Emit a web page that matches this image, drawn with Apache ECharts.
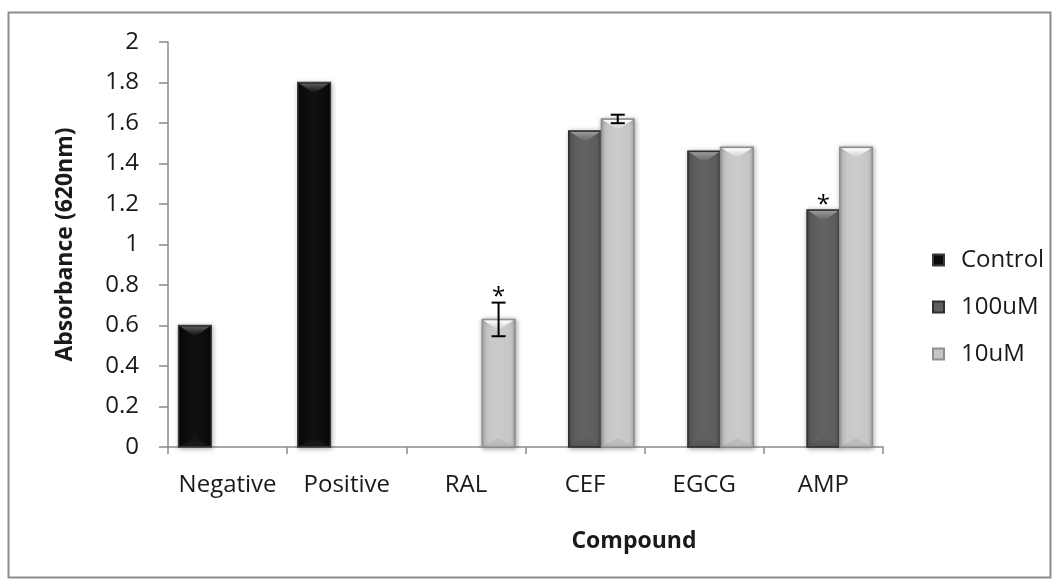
<!DOCTYPE html>
<html>
<head>
<meta charset="utf-8">
<style>
  html, body { margin: 0; padding: 0; background: #ffffff; }
  #chart { width: 1059px; height: 580px; }
</style>
<script src="https://cdn.jsdelivr.net/npm/echarts@6/dist/echarts.min.js"></script>
</head>
<body>
<div id="chart"></div>
<script>
// Absorbance at 620 nm per compound, for the controls and two concentrations.
const categories = ['Negative', 'Positive', 'RAL', 'CEF', 'EGCG', 'AMP'];
const controlValues = [0.60, 1.80, null, null, null, null];
const uM100Values = [null, null, null, 1.56, 1.46, 1.17];
const uM10Values = [null, null, 0.63, 1.62, 1.48, 1.48];
// Half-widths of the error bars (same order as categories).
const uM100Errors = [null, null, null, null, null, null];
const uM10Errors = [null, null, 0.083, 0.021, null, null];
// Significance marks (*).
const uM100Stars = [false, false, false, false, false, true];
const uM10Stars = [false, false, true, false, false, false];
// Value axis ticks.
const yMin = 0, yMax = 2, yStep = 0.2;

const FONT = '"Open Sans", "Noto Sans", sans-serif';
const BAR_RATIO = 0.274;   // bar width as a share of the category band

const palettes = {
  Control: { base: '#0b0b0b', edgeDark: '#000000', mid: '#111111', stroke: '#3c3c3c', bevelTop: '#5a5a5a', bevelBottom: '#1e1e1e' },
  '100uM': { base: '#5d5d5d', edgeDark: '#4a4a4a', mid: '#626262', stroke: '#2e2e2e', bevelTop: '#9a9a9a', bevelBottom: '#555555' },
  '10uM':  { base: '#c6c6c6', edgeDark: '#a9a9a9', mid: '#cbcbcb', stroke: '#8f8f8f', bevelTop: '#ffffff', bevelBottom: '#b4b4b4' }
};

function toPairs(values) {
  return values.map((v, i) => [i, v == null ? '-' : v]);
}

function slotX(api, idx, slot) {
  const cw = api.size([1, 0])[0];
  const bw = cw * BAR_RATIO;
  const cx = api.coord([idx, 0])[0] + slot * bw;
  return { cx, bw };
}

function bevelBar(slot, pal) {
  return function (params, api) {
    const v = api.value(1);
    if (v == null || isNaN(v)) return;
    const i = api.value(0);
    const { cx, bw } = slotX(api, i, slot);
    const x0 = cx - bw / 2, x1 = cx + bw / 2;
    const y0 = api.coord([i, v])[1];
    const y1 = api.coord([i, 0])[1];
    const h = y1 - y0;
    const b = Math.min(11, h / 3);
    const body = new echarts.graphic.LinearGradient(0, 0, 1, 0, [
      { offset: 0, color: pal.edgeDark },
      { offset: 0.12, color: pal.base },
      { offset: 0.5, color: pal.mid },
      { offset: 0.88, color: pal.base },
      { offset: 1, color: pal.edgeDark }
    ]);
    const topFill = new echarts.graphic.LinearGradient(0, 0, 0, 1, [
      { offset: 0, color: pal.bevelTop },
      { offset: 1, color: pal.base }
    ]);
    return {
      type: 'group',
      children: [
        {
          type: 'rect',
          shape: { x: x0, y: y0, width: bw, height: h },
          style: {
            fill: body, stroke: pal.stroke, lineWidth: 1.5,
            shadowBlur: 5, shadowColor: 'rgba(0,0,0,0.35)', shadowOffsetX: 1, shadowOffsetY: 1
          }
        },
        {
          type: 'polygon',
          shape: { points: [[x0 + 1.5, y0 + 1], [x1 - 1.5, y0 + 1], [cx, y0 + b]] },
          style: { fill: topFill }
        },
        {
          type: 'polygon',
          shape: { points: [[x0 + 1.5, y1 - 1], [x1 - 1.5, y1 - 1], [cx, y1 - b * 0.8]] },
          style: { fill: pal.bevelBottom, opacity: 0.6 }
        }
      ]
    };
  };
}

function errorBars(slot) {
  return function (params, api) {
    const v = api.value(1), e = api.value(2);
    if (v == null || isNaN(v) || e == null || isNaN(e)) return;
    const i = api.value(0);
    const { cx } = slotX(api, i, slot);
    const yHi = api.coord([i, v + e])[1];
    const yLo = api.coord([i, v - e])[1];
    const cap = 7;
    const st = { stroke: '#000000', lineWidth: 2 };
    return {
      type: 'group',
      children: [
        { type: 'line', shape: { x1: cx, y1: yHi, x2: cx, y2: yLo }, style: st },
        { type: 'line', shape: { x1: cx - cap, y1: yHi, x2: cx + cap, y2: yHi }, style: st },
        { type: 'line', shape: { x1: cx - cap, y1: yLo, x2: cx + cap, y2: yLo }, style: st }
      ]
    };
  };
}

function starMarks(slot) {
  return function (params, api) {
    const ref = api.value(1);
    if (ref == null || isNaN(ref)) return;
    const i = api.value(0);
    const { cx } = slotX(api, i, slot);
    const y = api.coord([i, ref])[1];
    return {
      type: 'text',
      style: {
        text: '*', x: cx, y: y - 5, align: 'center', verticalAlign: 'middle',
        font: '24px ' + FONT, fill: '#000000'
      }
    };
  };
}

function errorData(values, errors) {
  return values.map((v, i) => [i, v == null ? '-' : v, errors[i] == null ? '-' : errors[i]]);
}
function starData(values, errors, stars) {
  return values.map((v, i) => [i, stars[i] && v != null ? v + (errors[i] || 0) : '-']);
}

const groups = [
  { name: 'Control', values: controlValues, errors: [null, null, null, null, null, null], stars: [false, false, false, false, false, false], slot: -1 },
  { name: '100uM', values: uM100Values, errors: uM100Errors, stars: uM100Stars, slot: 0 },
  { name: '10uM', values: uM10Values, errors: uM10Errors, stars: uM10Stars, slot: 1 }
];

const series = [];
groups.forEach(g => {
  series.push({
    name: g.name,
    type: 'custom',
    renderItem: bevelBar(g.slot, palettes[g.name]),
    itemStyle: { color: palettes[g.name].base, borderColor: palettes[g.name].stroke, borderWidth: 1 },
    encode: { x: 0, y: 1 },
    data: toPairs(g.values),
    z: 2
  });
});
groups.forEach(g => {
  series.push({
    type: 'custom',
    renderItem: errorBars(g.slot),
    encode: { x: 0, y: [1] },
    data: errorData(g.values, g.errors),
    silent: true,
    z: 3
  });
  series.push({
    type: 'custom',
    renderItem: starMarks(g.slot),
    encode: { x: 0, y: 1 },
    data: starData(g.values, g.errors, g.stars),
    silent: true,
    z: 4
  });
});

const chart = echarts.init(document.getElementById('chart'), null, { renderer: 'canvas' });
chart.setOption({
  animation: false,
  backgroundColor: '#ffffff',
  textStyle: { fontFamily: FONT },
  grid: { left: 168, right: 176, top: 42, bottom: 133, containLabel: false },
  legend: {
    orient: 'vertical',
    left: 927,
    top: 243,
    itemWidth: 11,
    itemHeight: 11,
    itemGap: 23,
    icon: 'rect',
    data: groups.map(g => g.name),
    textStyle: { fontSize: 24, color: '#1a1a1a', fontFamily: FONT, padding: [0, 0, 0, 12] }
  },
  xAxis: {
    type: 'category',
    data: categories,
    boundaryGap: true,
    axisLine: { show: true, lineStyle: { color: '#8a8a8a', width: 1.5 } },
    axisTick: { show: true, length: 7, alignWithLabel: false, lineStyle: { color: '#8a8a8a', width: 1.5 } },
    axisLabel: { fontSize: 24, color: '#1a1a1a', margin: 26, fontFamily: FONT, interval: 0 },
    splitLine: { show: false }
  },
  yAxis: {
    type: 'value',
    min: yMin,
    max: yMax,
    interval: yStep,
    name: 'Absorbance (620nm)',
    nameLocation: 'middle',
    nameRotate: 90,
    nameGap: 91,
    nameTextStyle: { fontSize: 23, fontWeight: 'bold', color: '#1a1a1a', fontFamily: FONT },
    axisLine: { show: true, lineStyle: { color: '#8a8a8a', width: 1.5 } },
    axisTick: { show: true, length: 9, lineStyle: { color: '#8a8a8a', width: 1.5 } },
    axisLabel: { fontSize: 24, color: '#1a1a1a', margin: 29, fontFamily: FONT },
    splitLine: { show: false }
  },
  graphic: [
    {
      type: 'rect',
      shape: { x: 8.5, y: 12.5, width: 1042, height: 565 },
      style: { fill: 'none', stroke: '#8c8c8c', lineWidth: 2 },
      silent: true,
      z: -1
    },
    {
      type: 'text',
      x: 634,
      y: 541,
      style: {
        text: 'Compound', align: 'center', verticalAlign: 'middle',
        font: 'bold 23px ' + FONT, fill: '#1a1a1a'
      }
    }
  ],
  series: series
});
</script>
</body>
</html>
